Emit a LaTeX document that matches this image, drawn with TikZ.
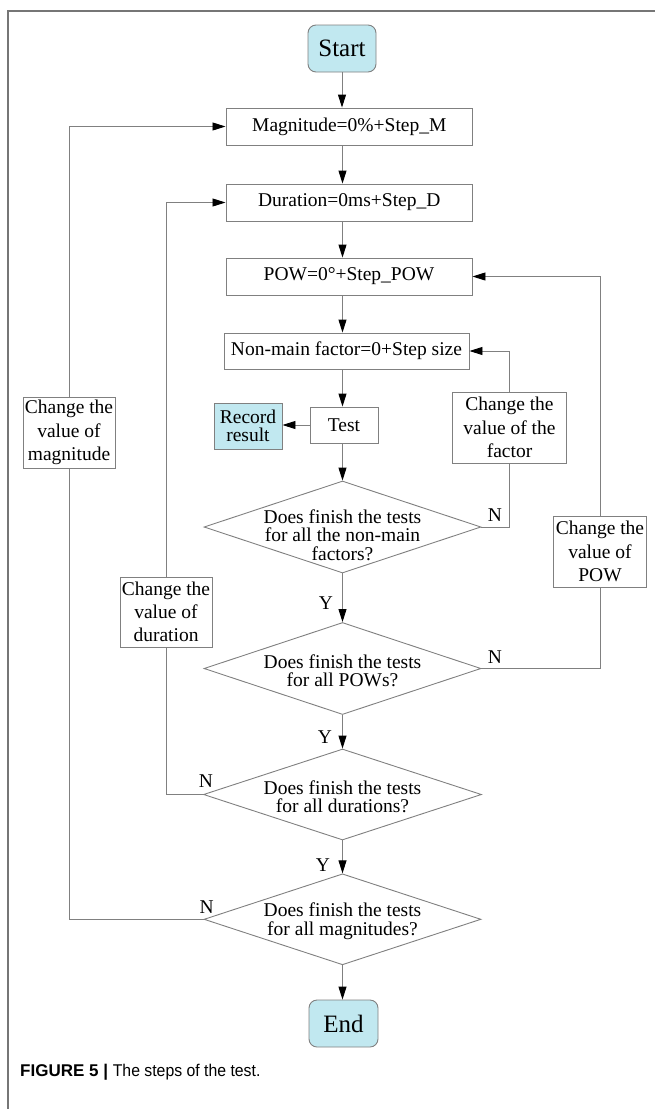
\documentclass[tikz,border=0pt]{standalone}
\usepackage{fontspec}
\setmainfont{Liberation Serif}
\newfontfamily\capfont{Liberation Sans}
\usetikzlibrary{arrows.meta,shapes.geometric}
\definecolor{lc}{RGB}{128,128,128}
\definecolor{cy}{RGB}{193,232,240}
\definecolor{fr}{RGB}{118,118,118}
\newcommand\fbody{\fontsize{19.5}{23.3}\selectfont}
\newcommand\ftight{\fontsize{19.5}{18.5}\selectfont}
\newcommand\fterm{\fontsize{25}{28}\selectfont}
\tikzset{
  box/.style={draw=lc, line width=0.9pt, fill=white, inner sep=1pt, align=center, font=\fbody},
  term/.style={box, rounded corners=8pt, fill=cy, font=\fterm},
  dia/.style={diamond, draw=lc, line width=0.9pt, fill=white, inner sep=0pt},
  diatext/.style={inner sep=0pt, align=center, font=\ftight},
  arr/.style={draw=lc, line width=0.9pt, -{Triangle[length=13pt,width=8pt,color=black,fill=black]}},
  ln/.style={draw=lc, line width=0.9pt},
  lab/.style={inner sep=0pt, font=\fbody},
  frame/.style={draw=fr, line width=1.4pt}
}
\begin{document}
\begin{tikzpicture}[x=1pt,y=-1pt]
\useasboundingbox (0,0) rectangle (655,1109);
% frame
\coordinate (f1) at (655,11);
\coordinate (f2) at (8,11);
\coordinate (f3) at (8,1109);
\draw[frame] (f1) -- (f2) -- (f3);

% nodes
\node[term, minimum width=68pt, minimum height=47pt] (start) at (342,48.5) {Start};
\node[box, minimum width=246.7pt, minimum height=37pt] (mag) at (349.3,126.5) {Magnitude=0\%+Step\_M};
\node[box, minimum width=246.7pt, minimum height=37pt] (dur) at (349.3,202.5) {Duration=0ms+Step\_D};
\node[box, minimum width=246pt, minimum height=37pt] (pow) at (349,276.5) {POW=0°+Step\_POW};
\node[box, minimum width=245pt, minimum height=36pt] (nm) at (346.5,351) {Non-main factor=0+Step size};
\node[box, minimum width=68pt, minimum height=36pt] (test) at (344,425) {Test};
\node[box, fill=cy, font=\ftight, minimum width=68pt, minimum height=46pt] (rec) at (248,426) {Record\\result};
\node[box, minimum width=114pt, minimum height=71pt] (fac) at (509.5,427.5) {Change the\\value of the\\factor};
\node[box, minimum width=92pt, minimum height=71pt] (magc) at (69,432.5) {Change the\\value of\\magnitude};
\node[box, minimum width=92pt, minimum height=70pt] (durc) at (166,612) {Change the\\value of\\duration};
\node[box, minimum width=93pt, minimum height=71pt] (powc) at (600,551.5) {Change the\\value of\\POW};

\node[dia, minimum width=277pt, minimum height=92pt] (d1) at (342.5,527) {};
\node[dia, minimum width=277pt, minimum height=92pt] (d2) at (342.5,668.5) {};
\node[dia, minimum width=278pt, minimum height=91pt] (d3) at (342.5,794.5) {};
\node[dia, minimum width=277pt, minimum height=91pt] (d4) at (342.5,919.3) {};
\node[diatext] (d1t) at (342.5,535) {Does finish the tests\\for all the non-main\\factors?};
\node[diatext] (d2t) at (342.5,671) {Does finish the tests\\for all POWs?};
\node[diatext] (d3t) at (342.5,797) {Does finish the tests\\for all durations?};
\node[diatext] (d4t) at (342.5,921) {Does finish the tests\\for all magnitudes?};

\node[term, minimum width=69pt, minimum height=47pt] (end) at (343.5,1023.5) {End};

% main flow
\coordinate (cx) at (342.5,0);
\draw[arr] (start.south) -- (start.south |- mag.north);
\draw[arr] (cx |- mag.south) -- (cx |- dur.north);
\draw[arr] (cx |- dur.south) -- (cx |- pow.north);
\draw[arr] (cx |- pow.south) -- (cx |- nm.north);
\draw[arr] (cx |- nm.south) -- (cx |- test.north);
\draw[arr] (test.west) -- (test.west -| rec.east);
\draw[arr] (cx |- test.south) -- (d1.north);
\draw[arr] (d1.south) -- (d2.north);
\draw[arr] (d2.south) -- (d3.north);
\draw[arr] (d3.south) -- (d4.north);
\draw[arr] (d4.south) -- (d4.south |- end.north);

% loops
\draw[ln] (d1.east) -- (d1.east -| fac.south) -- (fac.south);
\draw[arr] (fac.north) -- (fac.north |- nm.east) -- (nm.east);
\draw[ln] (d2.east) -- (d2.east -| powc.south) -- (powc.south);
\draw[arr] (powc.north) -- (powc.north |- pow.east) -- (pow.east);
\draw[ln] (d3.west) -- (d3.west -| durc.south) -- (durc.south);
\draw[arr] (durc.north) -- (durc.north |- dur.west) -- (dur.west);
\draw[ln] (d4.west) -- (d4.west -| magc.south) -- (magc.south);
\draw[arr] (magc.north) -- (magc.north |- mag.west) -- (mag.west);

% labels
\node[lab] (y1) at (326,603) {Y};
\node[lab] (y2) at (325,737) {Y};
\node[lab] (y3) at (323,865) {Y};
\node[lab] (n1) at (495,515) {N};
\node[lab] (n2) at (495,657) {N};
\node[lab] (n3) at (206,781) {N};
\node[lab] (n4) at (206.7,906.7) {N};

% caption
\node[anchor=base west, inner sep=0pt, font=\capfont\fontsize{17}{20}\selectfont] (cap) at (20,1076)
  {\textbf{FIGURE 5} \textbf{|} \scalebox{0.93}[1]{The steps of the test.}};
\end{tikzpicture}
\end{document}
